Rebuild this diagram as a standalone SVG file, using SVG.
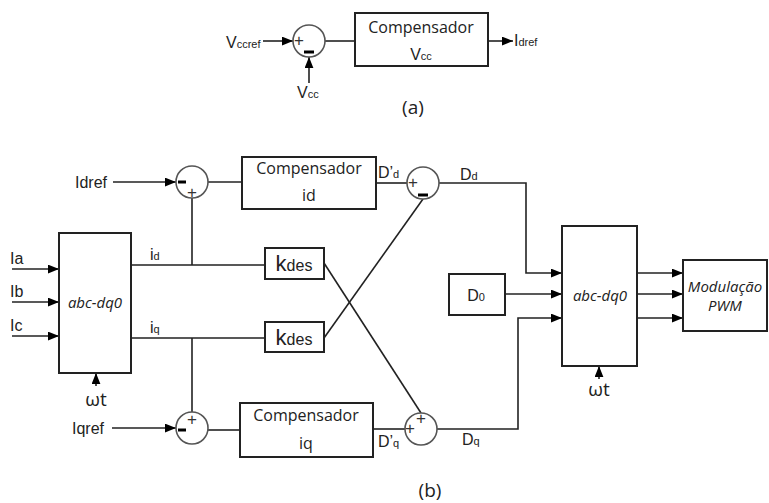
<svg xmlns="http://www.w3.org/2000/svg" width="769" height="503" viewBox="0 0 769 503">
<defs>
<marker id="ah" viewBox="0 0 10 8" refX="10" refY="4" markerWidth="11" markerHeight="9" markerUnits="userSpaceOnUse" orient="auto"><path d="M0,0L10,4L0,8z" fill="#000"/></marker>
<style>
.ln{fill:none;stroke:#222;stroke-width:1.6}
.ar{fill:none;stroke:#222;stroke-width:1.6;marker-end:url(#ah)}
.bx{fill:#fff;stroke:#222;stroke-width:2}
.sm{fill:#fff;stroke:#555;stroke-width:1.6}
.t{font-family:"Open Sans",sans-serif;font-size:16px;fill:#222}
.l{font-family:"Liberation Sans",Arial,sans-serif;font-size:16px;fill:#222}
.it{font-family:"Open Sans",sans-serif;font-size:15px;font-style:italic;fill:#222}
.sg{font-family:"Liberation Sans",Arial,sans-serif;font-size:17px;fill:#333;text-anchor:middle;dominant-baseline:central}
.mn{stroke:#000;stroke-width:3}
.c{text-anchor:middle}
.big{font-size:19px}
.k{font-size:22px}
</style>
</defs>
<g id="connectors">
<path class="ar" d="M263,41H293"/>
<path class="ar" d="M309,83V57"/>
<path class="ln" d="M325,41H355"/>
<path class="ar" d="M488,41H513"/>
<path class="ar" d="M113,182H176"/>
<path class="ln" d="M208,182H242"/>
<path class="ln" d="M376,183H407"/>
<path class="ar" d="M439,183H526V273H562"/>
<path class="ar" d="M12,269H59"/>
<path class="ar" d="M12,302H59"/>
<path class="ar" d="M12,336H59"/>
<path class="ln" d="M131,265H265M192,265V198"/>
<path class="ln" d="M131,338H265M192,338V412"/>
<path class="ar" d="M112,428H176"/>
<path class="ln" d="M208,430H240"/>
<path class="ln" d="M373,429H405"/>
<path class="ar" d="M437,429H518V318H562"/>
<path class="ar" d="M96,386V373"/>
<path class="ln" d="M324,263L421,413"/>
<path class="ln" d="M324,338L423,199"/>
<path class="ar" d="M505,294H562"/>
<path class="ar" d="M599,379V366"/>
<path class="ar" d="M637,273H683"/>
<path class="ar" d="M637,294H683"/>
<path class="ar" d="M637,318H683"/>
</g>
<g id="label-a">
<text class="l" x="226" y="48">V<tspan font-size="11">ccref</tspan></text>
<text class="l" x="297" y="98">V<tspan font-size="11">cc</tspan></text>
<text class="l" x="514" y="46">I<tspan font-size="11">dref</tspan></text>
<text class="t c big" x="413" y="114">(a)</text>
</g>
<g id="sum-a">
<circle class="sm" cx="309" cy="41" r="16"/>
<text class="sg" x="299" y="40">+</text>
<path class="mn" d="M304,52H314"/>
</g>
<g id="comp-vcc">
<rect class="bx" x="355" y="13" width="133" height="53"/>
<text class="t c" x="421" y="33">Compensador</text>
<text class="l c" x="421" y="60">V<tspan font-size="11">cc</tspan></text>
</g>
<g id="labels-b">
<text class="l" x="75" y="188">Idref</text>
<text class="l" x="72" y="434">Iqref</text>
<text class="l" x="10" y="264">Ia</text>
<text class="l" x="10" y="297">Ib</text>
<text class="l" x="10" y="331">Ic</text>
<text class="l" x="150" y="260">i<tspan font-size="11">d</tspan></text>
<text class="l" x="150" y="333">i<tspan font-size="11">q</tspan></text>
<text class="l" x="378" y="178">D’<tspan font-size="11">d</tspan></text>
<text class="l" x="378" y="447">D’<tspan font-size="11">q</tspan></text>
<text class="l" x="460" y="180">D<tspan font-size="11">d</tspan></text>
<text class="l" x="462" y="445">D<tspan font-size="11">q</tspan></text>
<text class="t c big" x="96" y="406">ωt</text>
<text class="t c big" x="599" y="396">ωt</text>
<text class="t c big" x="430" y="497">(b)</text>
</g>
<g id="sum-id">
<circle class="sm" cx="192" cy="182" r="16"/>
<path class="mn" d="M178,182H186"/>
<text class="sg" x="192" y="192">+</text>
</g>
<g id="comp-id">
<rect class="bx" x="242" y="157" width="134" height="52"/>
<text class="t c" x="309" y="174">Compensador</text>
<text class="t c" x="309" y="201">id</text>
</g>
<g id="sum-dd">
<circle class="sm" cx="423" cy="183" r="16"/>
<text class="sg" x="413" y="182">+</text>
<path class="mn" d="M418,195H428"/>
</g>
<g id="abc-dq0-1">
<rect class="bx" x="59" y="233" width="72" height="140"/>
<text class="it c" x="95" y="308">abc-dq0</text>
</g>
<g id="kdes-1">
<rect class="bx" x="265" y="248" width="59" height="31"/>
<text class="l c k" x="294" y="271">k<tspan font-size="16">des</tspan></text>
</g>
<g id="kdes-2">
<rect class="bx" x="265" y="322" width="59" height="30"/>
<text class="l c k" x="294" y="345">k<tspan font-size="16">des</tspan></text>
</g>
<g id="sum-iq">
<circle class="sm" cx="192" cy="428" r="16"/>
<path class="mn" d="M178,430H186"/>
<text class="sg" x="192" y="419">+</text>
</g>
<g id="comp-iq">
<rect class="bx" x="240" y="403" width="133" height="54"/>
<text class="t c" x="306" y="421">Compensador</text>
<text class="t c" x="306" y="449">iq</text>
</g>
<g id="sum-dq">
<circle class="sm" cx="421" cy="429" r="16"/>
<text class="sg" x="410" y="428">+</text>
<text class="sg" x="421" y="418">+</text>
</g>
<g id="d0">
<rect class="bx" x="449" y="274" width="56" height="41"/>
<text class="l c" x="476" y="301">D<tspan font-size="11">0</tspan></text>
</g>
<g id="abc-dq0-2">
<rect class="bx" x="562" y="226" width="75" height="140"/>
<text class="it c" x="600" y="301">abc-dq0</text>
</g>
<g id="pwm">
<rect class="bx" x="683" y="260" width="84" height="71"/>
<text class="it c" x="725" y="292">Modulação</text>
<text class="it c" x="725" y="311">PWM</text>
</g>
</svg>
